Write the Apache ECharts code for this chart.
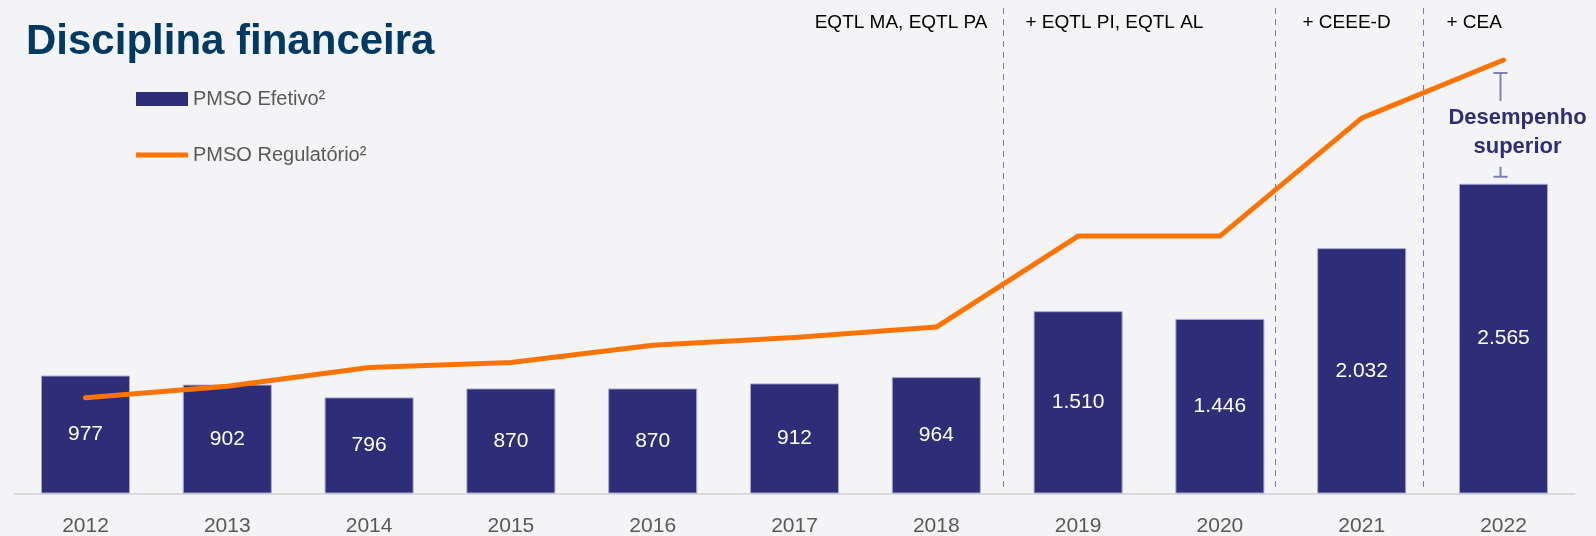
<!DOCTYPE html>
<html>
<head>
<meta charset="utf-8">
<script src="https://cdn.jsdelivr.net/npm/echarts@6/dist/echarts.min.js"></script>
<style>
  html, body { margin: 0; padding: 0; background: #f4f4f6; }
  #chart { width: 1596px; height: 536px; }
</style>
</head>
<body>
<div id="chart"></div>
<script>
// dados
var years = ['2012', '2013', '2014', '2015', '2016', '2017', '2018', '2019', '2020', '2021', '2022'];
var pmsoEfetivo = [977, 902, 796, 870, 870, 912, 964, 1510, 1446, 2032, 2565];
var pmsoRegulatorio = [792, 889, 1044, 1085, 1228, 1292, 1378, 2132, 2132, 3109, 3590];
// posições dos separadores (em unidades de categoria) e rótulos dos grupos
var separators = [6.47, 8.39, 9.43];
var groupLabels = ['EQTL MA, EQTL PA', '+ EQTL PI, EQTL AL', '+ CEEE-D', '+ CEA'];

var colors = ['#2e2e78', '#ff7400'];
var fmt = function (v) {
    return String(v).replace(/\B(?=(\d{3})+(?!\d))/g, '.');
};

var myChart = echarts.init(document.getElementById('chart'));
myChart.setOption({
    backgroundColor: '#f4f4f6',
    animation: false,
    title: {
        text: 'Disciplina financeira',
        left: 26,
        top: 21,
        padding: 0,
        textStyle: {
            fontFamily: 'Liberation Sans',
            fontWeight: 'bold',
            fontSize: 42,
            color: '#003a63'
        }
    },
    legend: {
        orient: 'vertical',
        left: 136,
        top: 89,
        padding: 0,
        itemWidth: 52,
        itemHeight: 14,
        itemGap: 36,
        textStyle: { fontFamily: 'Liberation Sans', fontSize: 20, color: '#595959' },
        data: [
            { name: 'PMSO Efetivo²', icon: 'rect', itemStyle: { borderWidth: 0 } },
            { name: 'PMSO Regulatório²', icon: 'path://M0,0L52,0L52,5L0,5Z', itemStyle: { color: colors[1], borderWidth: 0 } }
        ]
    },
    grid: { left: 14.6, right: 21.6, top: 10.5, bottom: 42.5, outerBoundsMode: 'none', containLabel: false },
    xAxis: {
        type: 'category',
        data: years,
        axisLine: { lineStyle: { color: '#d9d9d9', width: 2 } },
        axisTick: { show: false },
        axisLabel: {
            color: '#595959',
            fontFamily: 'Liberation Sans',
            fontSize: 21,
            margin: 22
        }
    },
    yAxis: { type: 'value', min: 0, max: 4000, show: false },
    series: [
        {
            name: 'PMSO Efetivo²',
            type: 'bar',
            data: pmsoEfetivo,
            barWidth: '62.8%',
            itemStyle: { color: colors[0], borderColor: '#a9a9cf', borderWidth: 1 },
            label: {
                show: true,
                position: 'inside',
                color: '#ffffff',
                fontFamily: 'Liberation Sans',
                fontSize: 21,
                formatter: function (p) { return fmt(p.value); }
            }
        },
        {
            name: 'PMSO Regulatório²',
            type: 'line',
            data: pmsoRegulatorio,
            symbol: 'none',
            z: 5,
            lineStyle: { color: colors[1], width: 5, cap: 'round', join: 'round' },
            itemStyle: { color: colors[1] }
        }
    ]
});

// separadores, rótulos de grupo e anotação (posições tiradas das escalas do gráfico)
var x0 = myChart.convertToPixel({ xAxisIndex: 0 }, years[0]);
var step = myChart.convertToPixel({ xAxisIndex: 0 }, years[1]) - x0;
var last = years.length - 1;
var xLast = myChart.convertToPixel({ xAxisIndex: 0 }, years[last]);
var yLine = myChart.convertToPixel({ yAxisIndex: 0 }, pmsoRegulatorio[last]);
var yBar = myChart.convertToPixel({ yAxisIndex: 0 }, pmsoEfetivo[last]);
var yBase = myChart.convertToPixel({ yAxisIndex: 0 }, 0);

var sepX = separators.map(function (s) { return Math.round(x0 + s * step) + 0.5; });
var graphics = [];
sepX.forEach(function (x) {
    graphics.push({
        type: 'line',
        shape: { x1: x, y1: 8, x2: x, y2: yBase - 4 },
        style: { stroke: '#7478b8', lineWidth: 1, lineDash: [6, 5] },
        silent: true
    });
});
var groupStyle = { fill: '#000000', font: '19px "Liberation Sans"', verticalAlign: 'middle' };
graphics.push({ type: 'text', x: sepX[0] - 16, y: 23, style: Object.assign({ text: groupLabels[0], align: 'right' }, groupStyle) });
graphics.push({ type: 'text', x: sepX[0] + 22, y: 23, style: Object.assign({ text: groupLabels[1], align: 'left' }, groupStyle) });
graphics.push({ type: 'text', x: sepX[1] + 27, y: 23, style: Object.assign({ text: groupLabels[2], align: 'left' }, groupStyle) });
graphics.push({ type: 'text', x: sepX[2] + 23, y: 23, style: Object.assign({ text: groupLabels[3], align: 'left' }, groupStyle) });

// colchete "Desempenho superior"
var bx = Math.round(xLast - 4) + 0.5;
var topY = yLine + 13, botY = yBar - 7;
var brStyle = { stroke: '#7c80b6', lineWidth: 2 };
graphics.push({ type: 'line', shape: { x1: bx - 7, y1: topY, x2: bx + 7, y2: topY }, style: brStyle });
graphics.push({ type: 'line', shape: { x1: bx, y1: topY, x2: bx, y2: topY + 28 }, style: brStyle });
graphics.push({ type: 'line', shape: { x1: bx, y1: botY - 10, x2: bx, y2: botY }, style: brStyle });
graphics.push({ type: 'line', shape: { x1: bx - 7, y1: botY, x2: bx + 7, y2: botY }, style: brStyle });
graphics.push({
    type: 'text',
    x: xLast + 14,
    y: (topY + botY) / 2 + 8,
    style: {
        text: 'Desempenho\nsuperior',
        fill: '#2e2e78',
        font: 'bold 22px "Liberation Sans"',
        align: 'center',
        verticalAlign: 'middle',
        lineHeight: 29
    }
});
myChart.setOption({ graphic: graphics });
</script>
</body>
</html>
